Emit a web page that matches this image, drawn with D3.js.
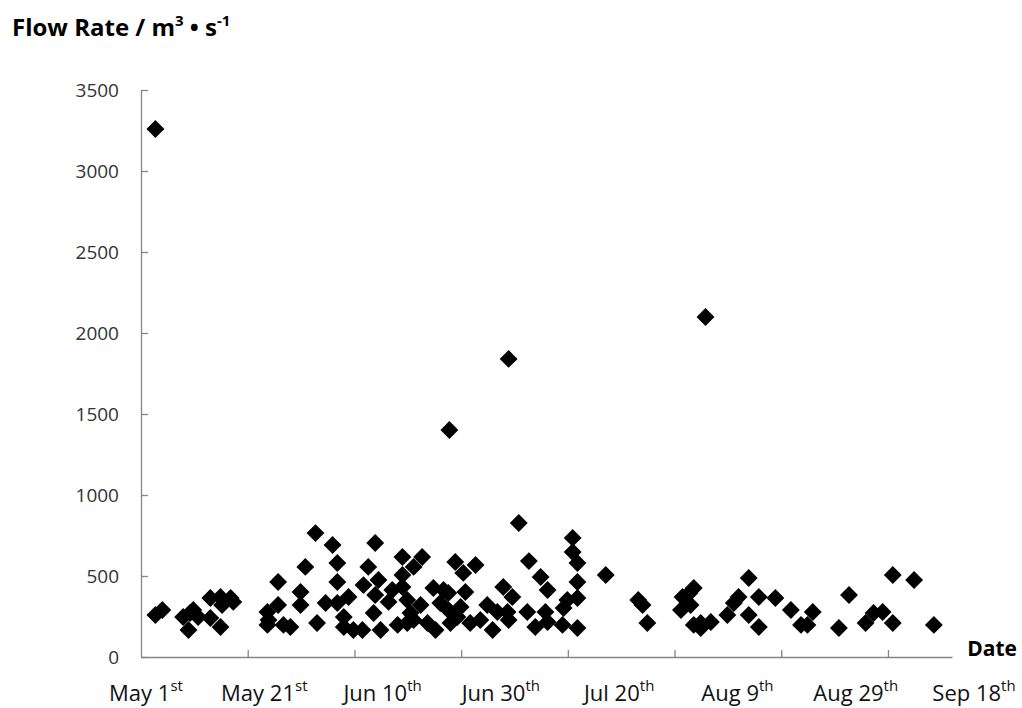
<!DOCTYPE html>
<html>
<head>
<meta charset="utf-8">
<script src="https://cdn.jsdelivr.net/npm/d3@7"></script>
<style>
  body { margin: 0; background: #fff; }
  svg { display: block; font-family: "Open Sans", sans-serif; }
</style>
</head>
<body>
<svg id="chart"></svg>
<script>
// days after May 1st
const sampleDays = [
  2.7, 2.7, 4.0, 7.9, 9.2, 9.8, 8.9, 10.7, 13.0, 13.0, 14.9, 15.2, 14.9, 16.8, 17.3,
  23.7, 23.9, 23.7, 25.7, 25.7, 26.7, 28.0, 29.9, 29.9, 30.8, 33.0, 32.7, 35.9, 34.6,
  36.8, 36.8, 36.8, 38.9, 38.0, 38.0, 39.8, 41.5, 43.9, 42.6, 41.7, 44.5, 43.9, 43.6,
  44.9, 47.1, 46.4, 48.1, 49.0, 49.0, 49.0, 49.9, 50.5, 51.1, 49.9, 52.7, 51.1, 52.4,
  53.7, 55.2, 54.8, 56.7, 56.1, 57.6, 57.6, 58.0, 57.8, 58.9, 60.4, 62.7, 60.8, 59.9,
  59.3, 61.7, 63.6, 64.9, 65.9, 66.8, 67.9, 68.9, 69.6, 68.9, 68.7, 70.8, 72.7, 72.4,
  74.9, 76.2, 73.9, 75.8, 76.2, 79.0, 79.2, 79.9, 80.9, 80.9, 81.8, 81.8, 81.8, 81.8,
  87.1, 93.2, 94.0, 94.9, 101.5, 102.8, 103.6, 101.2, 103.0, 103.6, 104.9, 104.9, 105.8,
  106.8, 109.9, 111.1, 112.0, 113.9, 113.9, 115.8, 115.8, 118.9, 121.8, 123.7, 124.9,
  125.9, 130.8, 132.7, 135.8, 137.3, 139.0, 140.9, 140.9, 144.9, 148.6
];
const flowRates = [
  3259, 259, 290, 247, 272, 290, 167, 247, 364, 241, 370, 321, 185, 364, 340,
  278, 228, 198, 463, 321, 198, 185, 401, 321, 556, 210, 765, 691, 333,
  580, 463, 333, 370, 247, 185, 167, 167, 704, 556, 444, 475, 383, 272,
  167, 414, 340, 198, 617, 506, 432, 352, 272, 228, 210, 617, 556, 321,
  210, 167, 426, 414, 333, 395, 290, 210, 1401, 586, 519, 568, 401, 309,
  247, 210, 228, 321, 167, 278, 432, 1840, 370, 228, 278, 827, 592, 278,
  494, 414, 185, 278, 216, 198, 302, 352, 735, 648, 580, 463, 364, 179,
  506, 352, 321, 210, 370, 395, 426, 290, 321, 198, 210, 179, 2099,
  216, 259, 333, 370, 488, 259, 370, 185, 364, 290, 198, 198,
  278, 179, 383, 210, 272, 278, 210, 506, 475, 198
];
const dayTicks = [0, 20, 40, 60, 80, 100, 120, 140];
const dateLabels = [
  ["May 1", "st"], ["May 21", "st"], ["Jun 10", "th"], ["Jun 30", "th"],
  ["Jul 20", "th"], ["Aug 9", "th"], ["Aug 29", "th"], ["Sep 18", "th"]
];
const flowTicks = [0, 500, 1000, 1500, 2000, 2500, 3000, 3500];

const width = 1022, height = 708;
const svg = d3.select("#chart").attr("width", width).attr("height", height);

const x = d3.scaleLinear([0, 152], [141, 952]);
const y = d3.scaleLinear([0, 3500], [657, 90]);

// axes, ticks point inwards like the original
const yAxis = svg.append("g")
    .attr("transform", `translate(${x(0)},0)`)
    .call(d3.axisLeft(y).tickValues(flowTicks).tickFormat(d3.format("d"))
        .tickSizeInner(-7).tickSizeOuter(0).tickPadding(22));
yAxis.selectAll("text").attr("font-size", 19).attr("fill", "#333").attr("font-family", "Open Sans");

const xAxis = svg.append("g")
    .attr("transform", `translate(0,${y(0)})`)
    .call(d3.axisBottom(x).tickValues(dayTicks).tickSizeInner(-7).tickSizeOuter(0).tickFormat(""));

svg.selectAll(".domain, .tick line").attr("stroke", "#868686").attr("stroke-width", 1.3);
xAxis.selectAll(".tick").filter(d => d === 0).remove();

// date labels sit a bit apart from the ticks in the original
const labelX = d3.scalePoint(dateLabels.map(d => d[0]), [146, 974]);
const lbl = svg.append("g").selectAll("text")
    .data(dateLabels)
    .join("text")
    .attr("x", d => labelX(d[0]))
    .attr("y", 701)
    .attr("text-anchor", "middle")
    .attr("font-size", 22)
    .attr("fill", "#111");
lbl.append("tspan").text(d => d[0]);
lbl.append("tspan").attr("dy", -10).attr("font-size", 15).text(d => d[1]);

// points
const diamond = d3.symbol(d3.symbolSquare, 160);
svg.append("g").selectAll("path")
    .data(sampleDays.map((d, i) => [d, flowRates[i]]))
    .join("path")
    .attr("d", diamond)
    .attr("transform", d => `translate(${x(d[0])},${y(d[1])}) rotate(45)`)
    .attr("fill", "#000");

// axis titles
const title = svg.append("text")
    .attr("x", 12).attr("y", 36)
    .attr("font-size", 24).attr("font-weight", "bold").attr("fill", "#000");
title.append("tspan").text("Flow Rate / m");
title.append("tspan").attr("dy", -10).attr("font-size", 15).text("3");
title.append("tspan").attr("dy", 10).text(" \u2022 s");
title.append("tspan").attr("dy", -10).attr("font-size", 15).text("-1");

svg.append("text")
    .attr("x", 1017).attr("y", 656)
    .attr("text-anchor", "end")
    .attr("font-size", 21).attr("font-weight", "bold").attr("fill", "#000")
    .text("Date");
</script>
</body>
</html>
